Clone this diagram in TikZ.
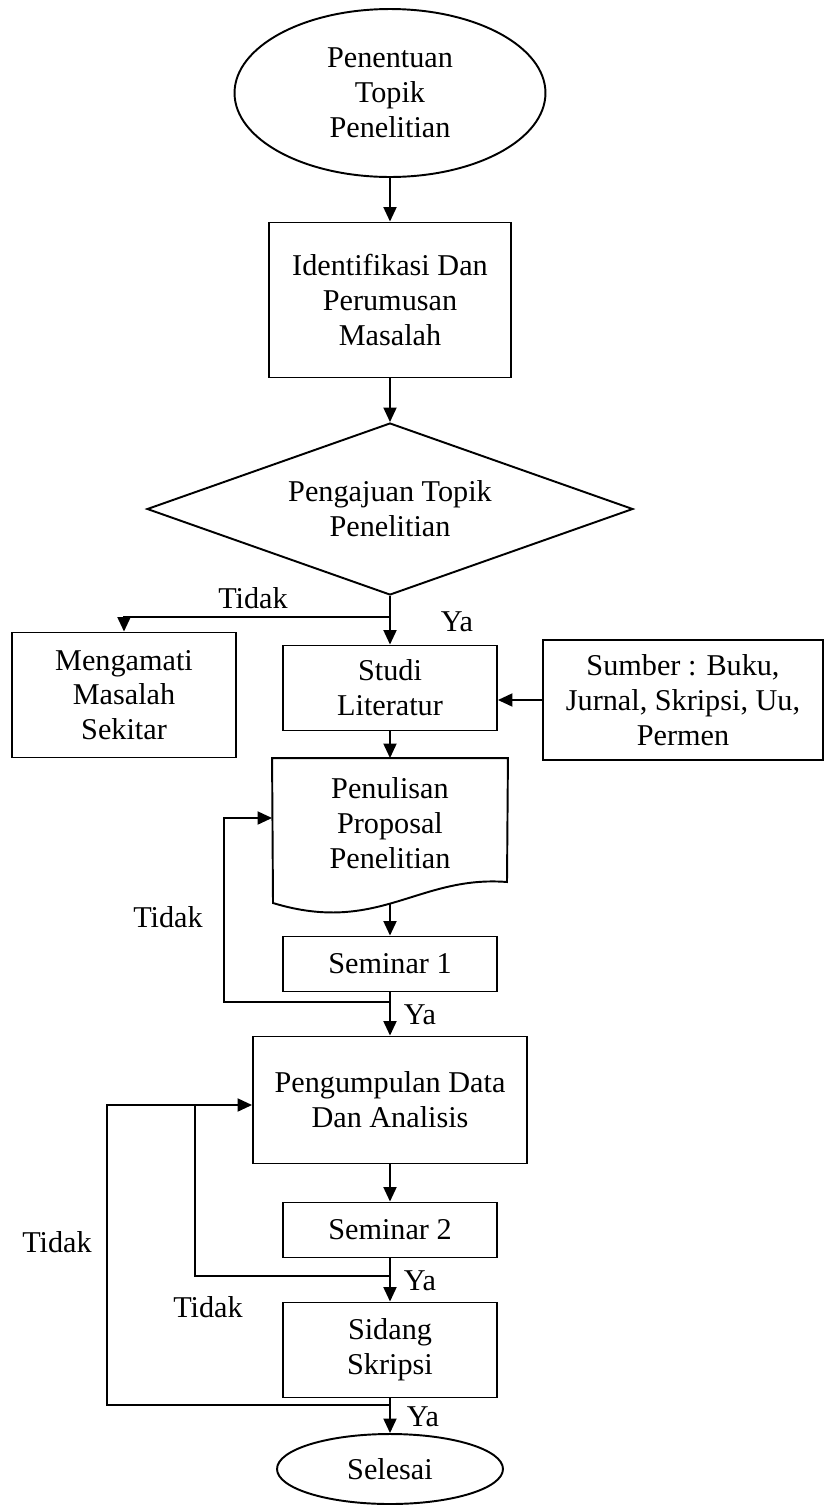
\documentclass[tikz,border=0pt]{standalone}
\usepackage{fontspec}
\setmainfont{Liberation Serif}
\usepackage{tikz}
\usetikzlibrary{arrows.meta,
    shapes.geometric,
    positioning}

\begin{document}
\begin{tikzpicture}[x=0.02cm,y=-0.02cm,line width=1.1pt,
    every node/.style={font=\fontsize{17.2}{19.8}\selectfont,align=center,inner sep=0pt},
    box/.style={draw,rectangle},
    terminal/.style={draw,ellipse},
    decision/.style={draw,diamond,aspect=2.8},
    arr/.style={-{Triangle[length=0.29cm,width=0.26cm]}}]
                  \useasboundingbox (0,0) rectangle (824,1505);
                  % main column
                  \node[terminal,minimum width=6.22cm,minimum height=3.36cm] (start) at (390,93) {Penentuan\\Topik\\Penelitian};
                  \node[box,minimum width=4.84cm,minimum height=3.1cm] (ident) at (390,300) {Identifikasi Dan\\Perumusan\\Masalah};
                  \node[decision,minimum width=9.72cm,minimum height=3.44cm] (decide) at (390,509) {Pengajuan Topik\\Penelitian};
                  \node[box,minimum width=4.48cm,minimum height=2.5cm] (observe) at (124,695) {Mengamati\\Masalah\\Sekitar};
                  \node[box,minimum width=4.28cm,minimum height=1.7cm] (study) at (390,688) {Studi\\Literatur};
                  \node[box,minimum width=5.6cm,minimum height=2.4cm] (source) at (683,700) {Sumber : Buku,\\Jurnal, Skripsi, Uu,\\Permen};
                  \node[minimum width=4.68cm,minimum height=2.56cm] (proposal) at (390,823) {Penulisan\\Proposal\\Penelitian};
                  \draw (proposal.north west) -- (proposal.north east) -- (507,882)
                        .. controls (418,875) and (378,935) .. (273,903) -- cycle;
                  \node[box,minimum width=4.28cm,minimum height=1.1cm] (sem1) at (390,964) {Seminar 1};
                  \node[box,minimum width=5.48cm,minimum height=2.54cm] (collect) at (390,1100) {Pengumpulan Data\\Dan Analisis};
                  \node[box,minimum width=4.28cm,minimum height=1.1cm] (sem2) at (390,1230) {Seminar 2};
                  \node[box,minimum width=4.28cm,minimum height=1.9cm] (trial) at (390,1350) {Sidang\\Skripsi};
                  \node[terminal,minimum width=4.52cm,minimum height=1.4cm] (finish) at (390,1469) {Selesai};
                  % branch points
                  \coordinate (split1) at (390,617);
                  \coordinate (pbot) at (390,903);
                  \coordinate (split2) at (390,1002);
                  \coordinate (back1) at (224,818);
                  \coordinate (split3) at (390,1276);
                  \coordinate (back2) at (195,1105);
                  \coordinate (split4) at (390,1405);
                  \coordinate (back3) at (107,1105);
                  % connectors
                  \draw[arr] (start) -- (ident);
                  \draw[arr] (ident) -- (decide);
                  \draw[arr] (decide) -- (study);
                  \draw[arr] (split1) -| (observe);
                  \draw[arr] (source) -- (source -| study.east);
                  \draw[arr] (study) -- (proposal);
                  \draw[arr] (pbot) -- (sem1);
                  \draw[arr] (sem1) -- (collect);
                  \draw[arr] (split2) -| (back1) -- (back1 -| proposal.west);
                  \draw[arr] (collect) -- (sem2);
                  \draw[arr] (sem2) -- (trial);
                  \draw[arr] (split3) -| (back2) -- (back2 -| collect.west);
                  \draw[arr] (trial) -- (finish);
                  \draw (split4) -| (back3) -- (back2);
                  % labels
                  \node (no1) at (253,598) {Tidak};
                  \node (yes1) at (457,622) {Ya};
                  \node (no2) at (168,917) {Tidak};
                  \node (yes2) at (420,1015) {Ya};
                  \node (no3) at (57,1242) {Tidak};
                  \node (yes3) at (420,1281) {Ya};
                  \node (no4) at (208,1307) {Tidak};
                  \node (yes4) at (423,1417) {Ya};
              \end{tikzpicture}
\end{document}
